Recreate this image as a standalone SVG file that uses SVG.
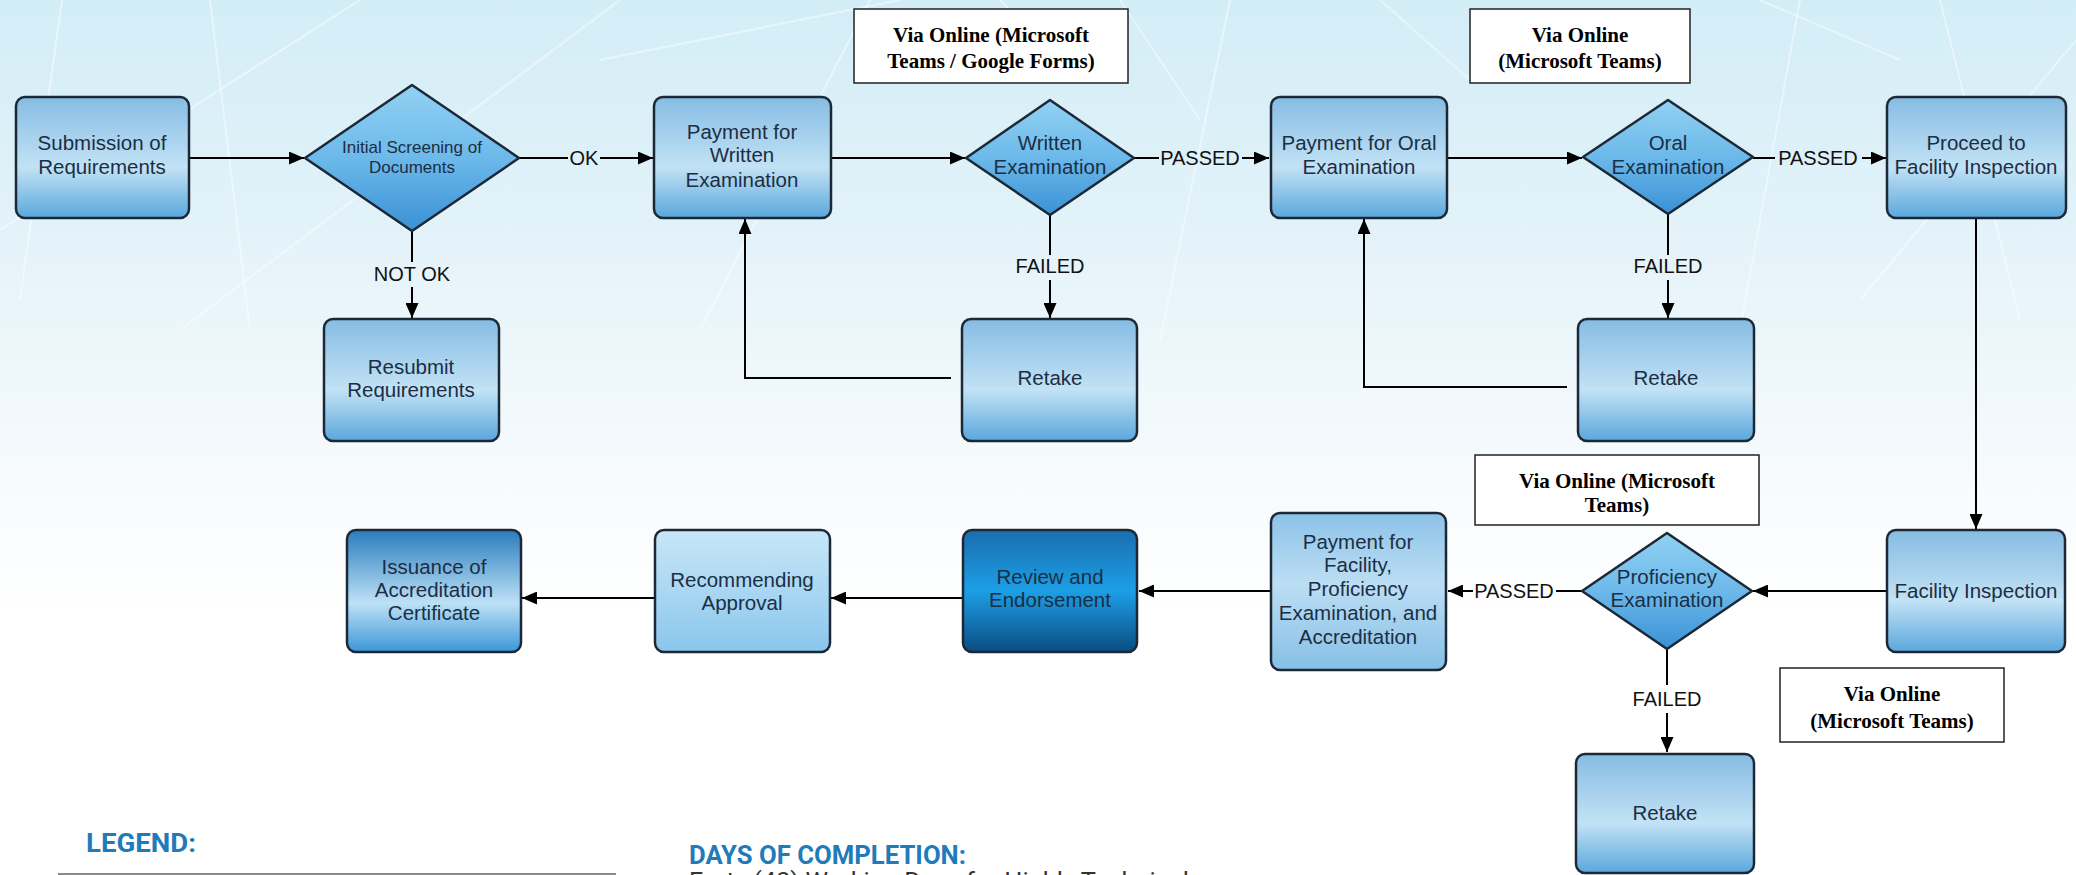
<svg xmlns="http://www.w3.org/2000/svg" width="2076" height="875" viewBox="0 0 2076 875">
<defs>
<linearGradient id="bg" x1="0" y1="0" x2="0" y2="1">
<stop offset="0" stop-color="#d3edf7"/>
<stop offset="0.25" stop-color="#e2f2f9"/>
<stop offset="0.55" stop-color="#f7fbfd"/>
<stop offset="0.7" stop-color="#ffffff"/>
</linearGradient>
<linearGradient id="gBox" x1="0" y1="0" x2="0" y2="1">
<stop offset="0" stop-color="#86bce3"/>
<stop offset="0.58" stop-color="#c2e2f5"/>
<stop offset="1" stop-color="#5aa7dd"/>
</linearGradient>
<linearGradient id="gDia" x1="0" y1="0" x2="0" y2="1">
<stop offset="0" stop-color="#92d1f3"/>
<stop offset="0.5" stop-color="#6cb9ea"/>
<stop offset="1" stop-color="#3a91d5"/>
</linearGradient>
<linearGradient id="gRev" x1="0" y1="0" x2="0" y2="1">
<stop offset="0" stop-color="#1a6eae"/>
<stop offset="0.5" stop-color="#1c9fe6"/>
<stop offset="1" stop-color="#0b4c82"/>
</linearGradient>
<linearGradient id="gIss" x1="0" y1="0" x2="0" y2="1">
<stop offset="0" stop-color="#2a7cbd"/>
<stop offset="0.6" stop-color="#bde1f6"/>
<stop offset="1" stop-color="#3b97d8"/>
</linearGradient>
<linearGradient id="gRec" x1="0" y1="0" x2="0" y2="1">
<stop offset="0" stop-color="#c8e7f8"/>
<stop offset="1" stop-color="#8bc6ec"/>
</linearGradient>
<linearGradient id="gFac" x1="0" y1="0" x2="0" y2="1">
<stop offset="0" stop-color="#8cc2e7"/>
<stop offset="0.45" stop-color="#bcdef4"/>
<stop offset="1" stop-color="#86bfe6"/>
</linearGradient>
<marker id="ah" markerUnits="userSpaceOnUse" markerWidth="15" markerHeight="13" refX="15" refY="6.5" orient="auto">
<path d="M0,0 L15,6.5 L0,13 z" fill="#000"/>
</marker>
<style>
.box{stroke:#1c2835;stroke-width:2.5}
.dia{fill:url(#gDia);stroke:#1c2835;stroke-width:2.5;stroke-linejoin:round}
.t{font-family:"Liberation Sans",Arial,sans-serif;font-size:20.5px;fill:#1b2e44;text-anchor:middle}
.ts{font-size:17px}
.lbl{font-family:"Liberation Sans",Arial,sans-serif;font-size:20px;fill:#111;text-anchor:middle}
.ann{fill:#fff;stroke:#222;stroke-width:1.5}
.at{font-family:"Liberation Serif","Times New Roman",serif;font-weight:bold;font-size:21px;fill:#000;text-anchor:middle}
.c{fill:none;stroke:#000;stroke-width:2}
.bgl{stroke:#ffffff;stroke-width:2;opacity:0.45;fill:none}
.head{font-family:Roboto,"Liberation Sans",sans-serif;font-weight:bold;fill:#1f7bb9}
</style>
</defs>
<rect x="0" y="0" width="2076" height="875" fill="url(#bg)"/>
<g id="background-lines">
<path class="bgl" d="M62,0 L20,300"/>
<path class="bgl" d="M210,0 L250,330"/>
<path class="bgl" d="M0,230 L360,0"/>
<path class="bgl" d="M180,330 L620,0"/>
<path class="bgl" d="M600,60 L900,0"/>
<path class="bgl" d="M870,0 L700,330"/>
<path class="bgl" d="M1000,0 L1060,60"/>
<path class="bgl" d="M1120,0 L1200,120"/>
<path class="bgl" d="M1230,0 L1160,340"/>
<path class="bgl" d="M1380,0 L1470,80"/>
<path class="bgl" d="M1760,0 L1900,60"/>
<path class="bgl" d="M1800,0 L1740,330"/>
<path class="bgl" d="M1940,0 L2020,320"/>
<path class="bgl" d="M2076,40 L1860,300"/>
</g>
<g id="connectors">
<path class="c" d="M189,158 L304,158" marker-end="url(#ah)"/>
<path class="c" d="M519,158 L568,158"/>
<path class="c" d="M600,158 L653,158" marker-end="url(#ah)"/>
<text class="lbl" x="584" y="165">OK</text>
<path class="c" d="M412,231 L412,262"/>
<path class="c" d="M412,287 L412,318" marker-end="url(#ah)"/>
<text class="lbl" x="412" y="281">NOT OK</text>
<path class="c" d="M831,158 L965,158" marker-end="url(#ah)"/>
<path class="c" d="M1134,158 L1159,158"/>
<path class="c" d="M1242,158 L1269,158" marker-end="url(#ah)"/>
<text class="lbl" x="1200" y="165">PASSED</text>
<path class="c" d="M1050,215 L1050,255"/>
<path class="c" d="M1050,280 L1050,318" marker-end="url(#ah)"/>
<text class="lbl" x="1050" y="273">FAILED</text>
<path class="c" d="M951,378 L745,378 L745,219" marker-end="url(#ah)"/>
<path class="c" d="M1447,158 L1582,158" marker-end="url(#ah)"/>
<path class="c" d="M1753,158 L1775,158"/>
<path class="c" d="M1862,158 L1886,158" marker-end="url(#ah)"/>
<text class="lbl" x="1818" y="165">PASSED</text>
<path class="c" d="M1668,214 L1668,255"/>
<path class="c" d="M1668,280 L1668,318" marker-end="url(#ah)"/>
<text class="lbl" x="1668" y="273">FAILED</text>
<path class="c" d="M1567,387 L1364,387 L1364,219" marker-end="url(#ah)"/>
<path class="c" d="M1976,218 L1976,529" marker-end="url(#ah)"/>
<path class="c" d="M1887,591 L1753,591" marker-end="url(#ah)"/>
<path class="c" d="M1582,591 L1556,591"/>
<path class="c" d="M1473,591 L1448,591" marker-end="url(#ah)"/>
<text class="lbl" x="1514" y="598">PASSED</text>
<path class="c" d="M1271,591 L1139,591" marker-end="url(#ah)"/>
<path class="c" d="M963,598 L831,598" marker-end="url(#ah)"/>
<path class="c" d="M654,598 L522,598" marker-end="url(#ah)"/>
<path class="c" d="M1667,649 L1667,685"/>
<path class="c" d="M1667,713 L1667,752" marker-end="url(#ah)"/>
<text class="lbl" x="1667" y="706">FAILED</text>
</g>
<g id="submission">
<rect class="box" x="16" y="97" width="173" height="121" rx="9" fill="url(#gBox)"/>
<text class="t" x="102" y="150">Submission of</text>
<text class="t" x="102" y="174">Requirements</text>
</g>
<g id="initial-screening">
<polygon class="dia" points="412,85 519,158 412,231 305,158"/>
<text class="t ts" x="412" y="153">Initial Screening of</text>
<text class="t ts" x="412" y="173">Documents</text>
</g>
<g id="resubmit">
<rect class="box" x="324" y="319" width="175" height="122" rx="9" fill="url(#gBox)"/>
<text class="t" x="411" y="374">Resubmit</text>
<text class="t" x="411" y="397">Requirements</text>
</g>
<g id="payment-written">
<rect class="box" x="654" y="97" width="177" height="121" rx="9" fill="url(#gBox)"/>
<text class="t" x="742" y="139">Payment for</text>
<text class="t" x="742" y="162">Written</text>
<text class="t" x="742" y="187">Examination</text>
</g>
<g id="note-written">
<rect class="ann" x="854" y="9" width="274" height="74"/>
<text class="at" x="991" y="42">Via Online (Microsoft</text>
<text class="at" x="991" y="68">Teams / Google Forms)</text>
</g>
<g id="written-exam">
<polygon class="dia" points="1050,100 1134,158 1050,215 966,158"/>
<text class="t" x="1050" y="150">Written</text>
<text class="t" x="1050" y="174">Examination</text>
</g>
<g id="retake-written">
<rect class="box" x="962" y="319" width="175" height="122" rx="9" fill="url(#gBox)"/>
<text class="t" x="1050" y="385">Retake</text>
</g>
<g id="payment-oral">
<rect class="box" x="1271" y="97" width="176" height="121" rx="9" fill="url(#gBox)"/>
<text class="t" x="1359" y="150">Payment for Oral</text>
<text class="t" x="1359" y="174">Examination</text>
</g>
<g id="note-oral">
<rect class="ann" x="1470" y="9" width="220" height="74"/>
<text class="at" x="1580" y="42">Via Online</text>
<text class="at" x="1580" y="68">(Microsoft Teams)</text>
</g>
<g id="oral-exam">
<polygon class="dia" points="1668,100 1753,157 1668,214 1583,157"/>
<text class="t" x="1668" y="150">Oral</text>
<text class="t" x="1668" y="174">Examination</text>
</g>
<g id="retake-oral">
<rect class="box" x="1578" y="319" width="176" height="122" rx="9" fill="url(#gBox)"/>
<text class="t" x="1666" y="385">Retake</text>
</g>
<g id="proceed">
<rect class="box" x="1887" y="97" width="179" height="121" rx="9" fill="url(#gBox)"/>
<text class="t" x="1976" y="150">Proceed to</text>
<text class="t" x="1976" y="174">Facility Inspection</text>
</g>
<g id="facility-inspection">
<rect class="box" x="1887" y="530" width="178" height="122" rx="9" fill="url(#gBox)"/>
<text class="t" x="1976" y="598">Facility Inspection</text>
</g>
<g id="note-facility">
<rect class="ann" x="1780" y="668" width="224" height="74"/>
<text class="at" x="1892" y="701">Via Online</text>
<text class="at" x="1892" y="728">(Microsoft Teams)</text>
</g>
<g id="note-proficiency">
<rect class="ann" x="1475" y="455" width="284" height="70"/>
<text class="at" x="1617" y="488">Via Online (Microsoft</text>
<text class="at" x="1617" y="512">Teams)</text>
</g>
<g id="proficiency-exam">
<polygon class="dia" points="1667,533 1752,591 1667,649 1582,591"/>
<text class="t" x="1667" y="584">Proficiency</text>
<text class="t" x="1667" y="607">Examination</text>
</g>
<g id="retake-proficiency">
<rect class="box" x="1576" y="754" width="178" height="119" rx="9" fill="url(#gBox)"/>
<text class="t" x="1665" y="820">Retake</text>
</g>
<g id="payment-facility">
<rect class="box" x="1271" y="513" width="175" height="157" rx="9" fill="url(#gFac)"/>
<text class="t" x="1358" y="549">Payment for</text>
<text class="t" x="1358" y="572">Facility,</text>
<text class="t" x="1358" y="596">Proficiency</text>
<text class="t" x="1358" y="620">Examination, and</text>
<text class="t" x="1358" y="644">Accreditation</text>
</g>
<g id="review">
<rect class="box" x="963" y="530" width="174" height="122" rx="9" fill="url(#gRev)"/>
<text class="t" x="1050" y="584">Review and</text>
<text class="t" x="1050" y="607">Endorsement</text>
</g>
<g id="recommending">
<rect class="box" x="655" y="530" width="175" height="122" rx="9" fill="url(#gRec)"/>
<text class="t" x="742" y="587">Recommending</text>
<text class="t" x="742" y="610">Approval</text>
</g>
<g id="issuance">
<rect class="box" x="347" y="530" width="174" height="122" rx="9" fill="url(#gIss)"/>
<text class="t" x="434" y="574">Issuance of</text>
<text class="t" x="434" y="597">Accreditation</text>
<text class="t" x="434" y="620">Certificate</text>
</g>
<g id="legend">
<text class="head" x="86" y="852" font-size="25" textLength="110" lengthAdjust="spacingAndGlyphs">LEGEND:</text>
<line x1="58" y1="874" x2="616" y2="874" stroke="#8a8a8a" stroke-width="2"/>
</g>
<g id="days">
<text class="head" x="689" y="864" font-size="26" textLength="277" lengthAdjust="spacingAndGlyphs">DAYS OF COMPLETION:</text>
<text x="689" y="889" font-family="Roboto,'Liberation Sans',sans-serif" font-size="24" fill="#333" textLength="500" lengthAdjust="spacingAndGlyphs">Forty (40) Working Days for Highly Technical</text>
</g>
</svg>
